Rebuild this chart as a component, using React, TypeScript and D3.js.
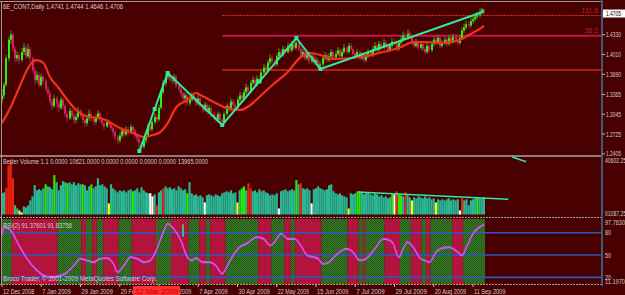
import React from 'react';
import * as d3 from 'd3';

// ---------------- DATA ----------------
const firstOpen = 1.328;
const closes = [
  1.335,1.352,1.395,1.425,1.433,1.410,1.395,1.400,1.392,1.405,
  1.412,1.398,1.410,1.395,1.375,1.360,1.368,1.352,1.365,1.358,
  1.345,1.338,1.325,1.318,1.330,1.322,1.315,1.328,1.318,1.305,
  1.298,1.310,1.302,1.295,1.300,1.310,1.302,1.295,1.290,1.298,
  1.305,1.298,1.292,1.300,1.306,1.296,1.290,1.285,1.292,1.288,
  1.282,1.276,1.268,1.262,1.270,1.278,1.272,1.280,1.275,1.284,
  1.278,1.270,1.265,1.258,1.252,1.262,1.270,1.285,1.280,1.292,
  1.300,1.296,1.315,1.340,1.355,1.365,1.368,1.362,1.358,1.365,
  1.350,1.345,1.338,1.330,1.335,1.322,1.328,1.335,1.330,1.322,
  1.330,1.318,1.312,1.320,1.308,1.315,1.305,1.300,1.296,1.305,
  1.295,1.292,1.305,1.318,1.312,1.325,1.320,1.315,1.328,1.335,
  1.330,1.340,1.348,1.342,1.355,1.360,1.352,1.362,1.358,1.372,
  1.380,1.375,1.388,1.395,1.390,1.385,1.398,1.405,1.400,1.410,
  1.405,1.415,1.408,1.418,1.412,1.420,1.410,1.400,1.405,1.395,
  1.402,1.390,1.398,1.388,1.392,1.382,1.385,1.395,1.400,1.392,
  1.398,1.405,1.396,1.402,1.408,1.398,1.405,1.412,1.405,1.415,
  1.410,1.402,1.398,1.405,1.395,1.400,1.392,1.398,1.405,1.400,
  1.410,1.415,1.408,1.418,1.412,1.420,1.415,1.408,1.415,1.422,
  1.418,1.410,1.420,1.425,1.432,1.428,1.435,1.430,1.420,1.415,
  1.422,1.412,1.418,1.410,1.405,1.415,1.408,1.418,1.425,1.420,
  1.428,1.415,1.420,1.425,1.418,1.428,1.422,1.430,1.425,1.420,
  1.428,1.440,1.445,1.450,1.448,1.455,1.458,1.462,1.465,1.470,
  1.4741,1.4706,
];
const highs = [
  1.345,1.356,1.400,1.430,1.440,1.436,1.414,1.406,1.404,1.412,
  1.420,1.416,1.418,1.413,1.398,1.380,1.374,1.372,1.370,1.368,
  1.362,1.350,1.342,1.330,1.336,1.334,1.326,1.333,1.331,1.322,
  1.310,1.315,1.313,1.306,1.305,1.316,1.313,1.306,1.298,1.303,
  1.312,1.309,1.301,1.304,1.311,1.309,1.299,1.294,1.297,1.296,
  1.291,1.285,1.279,1.271,1.275,1.283,1.281,1.285,1.284,1.288,
  1.287,1.281,1.273,1.268,1.261,1.266,1.275,1.289,1.290,1.297,
  1.306,1.304,1.320,1.345,1.360,1.370,1.372,1.372,1.367,1.370,
  1.368,1.354,1.348,1.341,1.340,1.338,1.333,1.340,1.339,1.333,
  1.336,1.333,1.321,1.325,1.323,1.320,1.318,1.309,1.304,1.309,
  1.308,1.298,1.309,1.322,1.322,1.330,1.329,1.324,1.333,1.341,
  1.339,1.345,1.354,1.352,1.360,1.366,1.364,1.367,1.366,1.377,
  1.386,1.384,1.393,1.401,1.399,1.394,1.403,1.411,1.409,1.415,
  1.414,1.420,1.419,1.423,1.422,1.428,1.424,1.414,1.410,1.408,
  1.407,1.405,1.403,1.401,1.397,1.395,1.390,1.400,1.405,1.403,
  1.403,1.410,1.408,1.407,1.413,1.411,1.410,1.418,1.415,1.420,
  1.419,1.413,1.406,1.410,1.408,1.405,1.403,1.403,1.410,1.409,
  1.415,1.421,1.418,1.423,1.422,1.426,1.424,1.418,1.420,1.428,
  1.426,1.421,1.425,1.431,1.438,1.437,1.442,1.439,1.433,1.424,
  1.427,1.425,1.423,1.421,1.414,1.420,1.418,1.423,1.431,1.429,
  1.433,1.431,1.425,1.430,1.428,1.433,1.431,1.435,1.434,1.429,
  1.433,1.445,1.451,1.456,1.455,1.460,1.463,1.467,1.470,1.475,
  1.477,1.4744,
];
const lows = [
  1.322,1.330,1.348,1.390,1.418,1.405,1.388,1.390,1.386,1.389,
  1.400,1.394,1.395,1.388,1.370,1.352,1.356,1.348,1.349,1.352,
  1.340,1.332,1.320,1.312,1.315,1.316,1.308,1.312,1.312,1.300,
  1.292,1.295,1.297,1.288,1.290,1.296,1.298,1.290,1.284,1.286,
  1.294,1.293,1.287,1.288,1.296,1.291,1.285,1.279,1.282,1.283,
  1.277,1.270,1.262,1.256,1.258,1.266,1.268,1.269,1.271,1.272,
  1.274,1.266,1.260,1.245,1.248,1.249,1.258,1.266,1.276,1.277,
  1.288,1.291,1.293,1.312,1.336,1.350,1.360,1.357,1.353,1.354,
  1.346,1.340,1.333,1.325,1.326,1.318,1.318,1.325,1.326,1.318,
  1.319,1.314,1.307,1.309,1.304,1.305,1.300,1.295,1.291,1.293,
  1.290,1.287,1.290,1.302,1.308,1.309,1.316,1.311,1.312,1.324,
  1.326,1.327,1.336,1.338,1.339,1.351,1.348,1.349,1.354,1.355,
  1.368,1.371,1.372,1.384,1.386,1.381,1.382,1.394,1.396,1.397,
  1.401,1.402,1.404,1.405,1.408,1.409,1.406,1.396,1.396,1.391,
  1.392,1.386,1.387,1.384,1.383,1.378,1.377,1.382,1.391,1.388,
  1.389,1.395,1.392,1.393,1.399,1.394,1.395,1.402,1.401,1.402,
  1.406,1.398,1.393,1.395,1.391,1.392,1.388,1.389,1.395,1.396,
  1.397,1.406,1.404,1.405,1.408,1.409,1.411,1.404,1.405,1.412,
  1.414,1.406,1.407,1.416,1.421,1.424,1.425,1.426,1.416,1.411,
  1.412,1.408,1.409,1.406,1.401,1.402,1.404,1.405,1.414,1.416,
  1.417,1.411,1.412,1.416,1.414,1.415,1.418,1.419,1.421,1.416,
  1.417,1.425,1.436,1.441,1.444,1.445,1.451,1.454,1.458,1.461,
  1.466,1.4646,
];

const volumes = [
  15800,16500,19800,36800,39300,27000,6800,4500,3000,1500,
  6000,5300,6800,10500,13500,21800,18000,18800,18000,19500,
  22500,21000,20300,18800,29300,24000,18000,21800,24800,24000,
  23300,24000,22500,24000,21800,23300,22500,22500,21800,18000,
  21000,22500,19500,21000,27000,21800,22500,21000,19500,8300,
  22500,19500,18000,16500,18000,17300,18000,16500,18000,18800,
  17300,18000,19500,16500,20300,18000,16500,15800,15800,13500,
  15000,6800,16500,18000,19500,21000,19500,20300,18800,19500,
  18000,21000,19500,18000,18800,15800,24000,15800,14300,15000,
  13500,14300,12800,9000,14300,15000,14300,13500,15000,14300,
  13500,15800,16500,17300,16500,18000,15800,16500,9000,18000,
  19500,21000,18000,23300,19500,17300,18000,16500,18800,17300,
  18000,16500,15800,14300,15000,14300,15800,4500,17300,18000,
  18800,17300,18000,18800,18000,25600,22500,23300,19500,18800,
  19500,18000,8300,18800,19500,21000,19500,18800,18000,18800,
  21800,22500,17300,15800,15000,15800,14300,13500,12800,4500,
  15800,15000,15800,16500,17300,16500,15000,15800,16500,15000,
  14300,15800,15000,13500,14300,12800,13500,12000,12800,15000,
  15000,17300,15000,14300,13500,16500,14300,12800,10500,12800,
  12000,13500,12800,12000,13500,12000,12800,11300,12000,9000,
  11300,10500,11300,10500,11300,12000,10500,11300,10500,11300,
  3000,12000,10500,11300,6800,10500,11300,12000,12800,12000,
  12000,12800,
];
const volumeColorCodes = (
  'ttrrrrttyw' + 'tttttttttt' + 'gtttgttttt' + 'gttttttgtt' + 'tgttttttty' +
  'tttttttttt' + 'gtttttttww' + 'trttrttttt' + 'tttttgtttt' + 'tttwtttttt' +
  'ttttttttyt' + 'ggtrrttttt' + 'tttttttwtt' + 'tttttgtrtt' + 'ttwttttttt' +
  'tttttttttY' + 'tttggttttt' + 'tttttttttg' + 'wrggtrttyt' + 'tttttttttY' +
  'tttttttttt' + 'wrttttttgt' + 'tt'
).split('');

const maIdx = [0,4,8,12,14,16,19,22,26,30,34,40,45,50,54,60,65,69,72,76,80,85,89,91,97,103,109,114,118,124,131,137,141,146,152,160,167,175,183,188,193,202,210,214,219,221];
const maVal = [1.2903,1.3162,1.3485,1.3792,1.3889,1.3921,1.3873,1.3647,1.3469,1.3275,1.3113,1.3000,1.2984,1.2903,1.2823,1.2742,1.2677,1.2709,1.2742,1.2903,1.3162,1.3275,1.3388,1.3356,1.3243,1.3146,1.3113,1.3194,1.3324,1.3517,1.3728,1.3970,1.4035,1.4002,1.3938,1.3954,1.3986,1.4051,1.4131,1.4205,1.4212,1.4196,1.4245,1.4325,1.4422,1.4471];

const zzIdx = [63, 76, 101, 135, 146, 221];
const zzPrice = [1.2451, 1.3711, 1.2871, 1.4277, 1.3776, 1.4706];
const zzMarkIdx = [63, 70, 76, 101, 118, 135, 146];
const zzMarkPrice = [1.2451, 1.3129, 1.3711, 1.2871, 1.3574, 1.4277, 1.3776];

const fibStartIdx = 101;
const fibPrices = [1.4641, 1.4314, 1.3760];
const fibLabels = ['161.8', '38.2', ''];

const priceTicks = [1.4330, 1.4010, 1.3690, 1.3365, 1.3045, 1.2725, 1.2405];
const lastPrice = 1.4705;

const volTrendIdx = [162.7, 232.2];
const volTrendVal = [16770, 11280];
const volStubIdx = [234, 240.4];
const volStubVal = [42860, 39330];

const rsiIdx = [0,1,4,7,11,16,19,22,27,30,33,36,39,42,45,48,51,53,56,59,62,65,68,71,74,76,78,82,85,87,89,92,95,98,101,103,106,109,112,117,120,123,125,128,131,134,137,140,143,145,147,150,153,158,161,164,167,171,175,179,182,184,186,189,192,194,196,199,202,205,209,211,213,216,219,221];
const rsiVal = [76.9,88.0,83.6,67.9,47.7,29.8,23.1,20.8,23.1,27.6,36.6,45.6,43.3,41.0,45.6,46.4,39.2,27.6,36.6,47.7,45.6,41.0,43.3,59.0,81.3,92.6,88.0,70.2,47.7,43.3,46.4,41.0,41.0,36.6,25.4,34.4,50.0,61.2,65.7,74.6,72.4,63.4,67.9,79.2,72.4,72.4,63.4,50.0,47.7,45.6,38.9,41.0,50.0,59.0,54.5,43.3,45.6,59.0,72.4,67.9,47.7,59.0,67.9,59.0,45.6,43.3,41.0,54.4,59.8,61.2,54.4,50.0,61.2,79.2,88.0,91.4];
const rsiLevels = [80, 50, 20];
// alternating green / red background zones, starting with green
const rsiZoneStarts = [0,5,26,37,39,42,44,47,54,60,71,78,86,91,94,96,103,118,124,130,133,135,147,159,164,166,167,176,183,188,193,195,197,207,212];
const rsiMarkIdx = 83;
const rsiMarkVal = [91.3, 74.6];
const rsiCursorIdx = 71;

const dateLabels = ['12 Dec 2008','7 Jan 2009','29 Jan 2009','20 Feb 2009','16 Mar 2009','7 Apr 2009','30 Apr 2009','22 May 2009','15 Jun 2009','7 Jul 2009','29 Jul 2009','20 Aug 2009','11 Sep 2009'];
const barsPerLabel = 18;

// ---------------- CHART ----------------
const W = 625, H = 295;
const BG = '#480000';
const FONT = 'Liberation Sans, Arial, sans-serif';
const TXT = '#cfcfcf';

const volColorMap: Record<string, string> = { t: '#29b896', g: '#22ee00', r: '#ee2211', w: '#ffffff', y: '#ffff00', Y: '#ffff00' };

function T({ x, y, s, w, fill = TXT, anchor = 'start', size = 7 }: any) {
  return (
    <text x={x} y={y} fontFamily={FONT} fontSize={size} fill={fill} textAnchor={anchor}
      textLength={w} lengthAdjust="spacingAndGlyphs">{s}</text>
  );
}

export default function App() {
  const n = closes.length;
  const x = d3.scaleLinear().domain([0, 216]).range([2, 473]);
  const bw = x(1) - x(0);
  const yP = d3.scaleLinear().domain([1.2370, 1.48587]).range([156, 2]);
  const yV = d3.scaleLinear().domain([0, 40602]).range([214.5, 160]);
  const yR = d3.scaleLinear().domain([11.197, 97.763]).range([283.9, 219.5]);
  const AX = 602;

  const opens = closes.map((c, i) => (i === 0 ? firstOpen : closes[i - 1]));

  const maLine = d3.line<number>().x((d) => x(maIdx[d])).y((d) => yP(maVal[d])).curve(d3.curveMonotoneX);
  const zzLine = d3.line<number>().x((d) => x(zzIdx[d])).y((d) => yP(zzPrice[d]));
  const rsiLine = d3.line<number>().x((d) => x(rsiIdx[d])).y((d) => yR(rsiVal[d])).curve(d3.curveMonotoneX);
  const rsiPts = rsiIdx.map((_, i) => i);

  const zones = rsiZoneStarts.map((s, k) => {
    const e = k + 1 < rsiZoneStarts.length ? rsiZoneStarts[k + 1] : n;
    const x0 = Math.max(2, x(s) - bw / 2);
    const x1 = x(e) - bw / 2;
    return { x0, x1, green: k % 2 === 0 };
  });

  return (
    <svg width={W} height={H} style={{ position: 'absolute', left: 0, top: 0, display: 'block' }}>
      <defs>
        <pattern id="gz" width="2" height="2" patternUnits="userSpaceOnUse">
          <rect width="2" height="2" fill="#3a7a26" />
          <rect width="1" height="1" fill="#245a18" />
          <rect x="1" y="1" width="1" height="1" fill="#245a18" />
        </pattern>
        <pattern id="rz" width="2" height="2" patternUnits="userSpaceOnUse">
          <rect width="2" height="2" fill="#b8163f" />
          <rect width="1" height="1" fill="#a01036" />
        </pattern>
        <clipPath id="pp"><rect x={2} y={2} width={AX - 2} height={153} /></clipPath>
        <clipPath id="vp"><rect x={2} y={157} width={AX - 2} height={60} /></clipPath>
      </defs>
      <rect width={W} height={H} fill={BG} />

      {/* ---- RSI zones ---- */}
      {zones.map((z, k) => (
        <rect key={'z' + k} x={z.x0} y={219} width={z.x1 - z.x0} height={65}
          fill={z.green ? 'url(#gz)' : 'url(#rz)'} />
      ))}
      <line x1={x(rsiCursorIdx)} x2={x(rsiCursorIdx)} y1={219} y2={284} stroke="#8a4a1a" strokeWidth={1} />
      {rsiLevels.map((l) => (
        <line key={'l' + l} x1={2} x2={AX} y1={yR(l)} y2={yR(l)} stroke="#2a58c0" strokeWidth={1.6} />
      ))}
      <path d={rsiLine(rsiPts) || ''} fill="none" stroke="#5aa8ff" strokeWidth={1} transform="translate(0,1)" />
      <path d={rsiLine(rsiPts) || ''} fill="none" stroke="#ff33ff" strokeWidth={1.3} />
      <line x1={x(rsiMarkIdx)} x2={x(rsiMarkIdx)} y1={yR(rsiMarkVal[0])} y2={yR(rsiMarkVal[1])} stroke="#2fe8a0" strokeWidth={1.5} />

      {/* ---- Volume ---- */}
      <g clipPath="url(#vp)">
        {volumes.map((v, i) => (
          <rect key={'v' + i} x={x(i) - bw / 2} y={yV(v)} width={bw} height={yV(0) - yV(v)}
            fill={volColorMap[volumeColorCodes[i]] || '#29b896'} />
        ))}
        <line x1={x(volTrendIdx[0])} x2={x(volTrendIdx[1])} y1={yV(volTrendVal[0])} y2={yV(volTrendVal[1])}
          stroke="#2fe8a0" strokeWidth={1.5} />
      </g>
      <line x1={x(volStubIdx[0])} x2={x(volStubIdx[1])} y1={Math.max(157, yV(volStubVal[0]))} y2={yV(volStubVal[1])}
        stroke="#2fe8a0" strokeWidth={1.5} />

      {/* ---- Price pane ---- */}
      <g clipPath="url(#pp)">
        {fibPrices.map((p, k) => (
          <line key={'f' + k} x1={x(fibStartIdx)} x2={AX} y1={yP(p)} y2={yP(p)}
            stroke={k === 0 ? '#d83030' : k === 1 ? '#c8104c' : '#d02810'}
            strokeWidth={k === 0 ? 1 : k === 1 ? 2 : 1.6}
            strokeDasharray={k === 0 ? '2,1' : undefined} />
        ))}
        {closes.map((c, i) => {
          const o = opens[i];
          const bull = c >= o;
          const xc = Math.round(x(i));
          const top = yP(Math.max(o, c));
          const bot = yP(Math.min(o, c));
          return (
            <g key={'c' + i}>
              <rect x={xc - 0.5} y={yP(highs[i])} width={1} height={yP(lows[i]) - yP(highs[i])}
                fill={bull ? '#3f9a2c' : '#9a2a44'} />
              <rect x={xc - 1} y={top} width={2} height={Math.max(1, bot - top)}
                fill={bull ? '#2ef00a' : '#d21f62'} />
            </g>
          );
        })}
        <path d={maLine(maIdx.map((_, i) => i)) || ''} fill="none" stroke="#f2311a" strokeWidth={2.2} />
        <path d={zzLine(zzIdx.map((_, i) => i)) || ''} fill="none" stroke="#2fe8a0" strokeWidth={2} />
        {zzMarkIdx.map((m, k) => (
          <rect key={'m' + k} x={x(m) - 2} y={yP(zzMarkPrice[k]) - 2} width={4} height={4} fill="#2fe8a0" />
        ))}
      </g>
      {fibLabels.map((l, k) => l ? (
        <T key={'fl' + k} x={AX - 4} y={yP(fibPrices[k]) - 2.5} s={l} w={l.length * 3.3} fill="#a82a2a" anchor="end" />
      ) : null)}

      {/* ---- frames ---- */}
      <line x1={0} x2={AX} y1={1.5} y2={1.5} stroke="#9a9a9a" strokeWidth={1} />
      <line x1={1.5} x2={1.5} y1={1} y2={285} stroke="#9a9a9a" strokeWidth={1} />
      <line x1={0} x2={AX} y1={156} y2={156} stroke="#a8a8a8" strokeWidth={1.5} />
      <line x1={0} x2={AX} y1={217.5} y2={217.5} stroke="#a0a0a0" strokeWidth={1} strokeDasharray="2,1" />
      <line x1={0} x2={AX} y1={284.5} y2={284.5} stroke="#a0a0a0" strokeWidth={1} strokeDasharray="2,1" />
      <line x1={AX} x2={AX} y1={0} y2={286} stroke="#3f5b70" strokeWidth={2} />

      {/* ---- price axis ---- */}
      {priceTicks.map((p) => (
        <g key={'pt' + p}>
          <line x1={AX} x2={AX + 3} y1={yP(p)} y2={yP(p)} stroke="#bbbbbb" />
          <T x={AX + 4} y={yP(p) + 2.5} s={p.toFixed(4)} w={15} size={6.5} />
        </g>
      ))}
      <rect x={AX + 1} y={yP(lastPrice) - 2} width={W - AX} height={8} fill="#ffffff" />
      <T x={AX + 4} y={yP(lastPrice) + 4.5} s={lastPrice.toFixed(4)} w={15} size={6.5} fill="#000000" />

      {/* volume axis */}
      <T x={AX + 3} y={163} s="40602.25" w={21} size={6.5} />
      <T x={AX + 3} y={216} s="01087.25" w={21} size={6.5} />
      {/* rsi axis */}
      <T x={AX + 3} y={225} s="97.7630" w={20} size={6.5} />
      {rsiLevels.map((l) => (
        <T key={'rl' + l} x={AX + 3} y={yR(l) + 2.5} s={String(l)} w={6} size={6.5} />
      ))}
      <T x={AX + 3} y={283.5} s="11.1970" w={20} size={6.5} />

      {/* ---- date axis ---- */}
      {dateLabels.map((d, k) => (
        <g key={'d' + k}>
          <line x1={x(k * barsPerLabel)} x2={x(k * barsPerLabel)} y1={284} y2={287} stroke="#bbbbbb" />
          <T x={x(k * barsPerLabel) + 1} y={293.5} s={d} w={d.length * 2.85} />
        </g>
      ))}
      <rect x={133} y={286} width={47} height={9} fill="#ff3030" />
      <T x={135} y={293.5} s="12 Mar 2009" w={43} fill="#c00000" />

      {/* ---- titles ---- */}
      <T x={3} y={8.5} s="6E_CONT,Daily  1.4741 1.4744 1.4646 1.4706" w={120} />
      <T x={3} y={164} s="Better Volume 1.1 0.0000 10621.0000 0.0000 0.0000 0.0000 0.0000 13965.0000" w={205} />
      <T x={3} y={227.5} s="RSI(2) 91.37601 91.83756" w={69} />
      <T x={3} y={281} s="Broco Trader, © 2001-2009 MetaQuotes Software Corp." w={154} />
    </svg>
  );
}
